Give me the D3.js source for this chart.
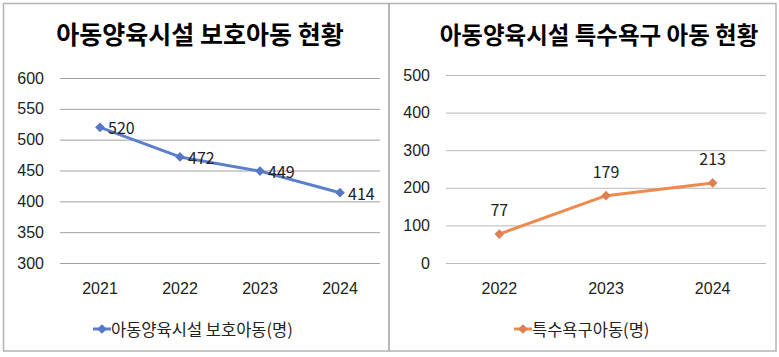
<!DOCTYPE html>
<html><head><meta charset="utf-8">
<script src="https://cdn.jsdelivr.net/npm/d3@7"></script>
<style>
body{margin:0;background:#fff;}
svg{display:block;font-family:"Noto Sans CJK KR","Noto Sans",sans-serif;}
</style></head>
<body><svg id="c" width="779" height="357"></svg>
<script>
const years1 = ["2021","2022","2023","2024"];
const values1 = [520, 472, 449, 414];
const ticks1 = [300, 350, 400, 450, 500, 550, 600];
const title1 = "아동양육시설 보호아동 현황";
const legend1 = "아동양육시설 보호아동(명)";

const years2 = ["2022","2023","2024"];
const values2 = [77, 179, 213];
const ticks2 = [0, 100, 200, 300, 400, 500];
const title2 = "아동양육시설 특수욕구 아동 현황";
const legend2 = "특수욕구아동(명)";

const svg = d3.select("#c");
svg.append("rect").attr("x",3.5).attr("y",3.5).attr("width",385.5).attr("height",347.5)
  .attr("fill","none").attr("stroke","#b4b4b4").attr("stroke-width",1.5);
svg.append("rect").attr("x",389).attr("y",3.5).attr("width",387).attr("height",347.5)
  .attr("fill","none").attr("stroke","#b4b4b4").attr("stroke-width",1.5);

function chart(o){
  const g = svg.append("g");
  const x = d3.scaleBand().domain(o.cats).range([o.x0,o.x1]);
  const y = d3.scaleLinear().domain(o.dom).range([263,o.yTop]);
  g.append("text").attr("x",o.tx).attr("y",44).attr("text-anchor","middle")
    .attr("font-size",o.tfs).attr("font-weight","bold").attr("fill","#000").text(o.title);
  const ya = d3.axisLeft(y).tickValues(o.ticks).tickSize(-(o.x1-o.x0)).tickPadding(16);
  const ag = g.append("g").attr("transform",`translate(${o.x0},0)`).call(ya);
  ag.select(".domain").remove();
  ag.selectAll(".tick line").attr("stroke",o.grid).attr("stroke-width",1);
  ag.selectAll(".tick text").attr("font-size",16).attr("fill","#222").attr("font-family","inherit");
  const xa = d3.axisBottom(x).tickSize(0).tickPadding(20);
  const xg = g.append("g").attr("transform","translate(0,263)").call(xa);
  xg.select(".domain").remove();
  xg.selectAll(".tick text").attr("font-size",16).attr("fill","#222").attr("font-family","inherit");
  const cx = d=>x(d)+x.bandwidth()/2;
  const line = d3.line().x((d,i)=>cx(o.cats[i])).y(d=>y(d));
  g.append("path").datum(o.vals).attr("d",line).attr("fill","none")
    .attr("stroke",o.color).attr("stroke-width",3).attr("stroke-linejoin","round");
  const sym = d3.symbol().type(d3.symbolDiamond2).size(60);
  g.selectAll(".m").data(o.vals).enter().append("path")
    .attr("d",sym).attr("fill",o.mcolor)
    .attr("transform",(d,i)=>`translate(${cx(o.cats[i])},${y(d)})`);
  g.selectAll(".lbl").data(o.vals).enter().append("text")
    .attr("x",(d,i)=>cx(o.cats[i])+o.lx).attr("y",d=>y(d)+o.ly)
    .attr("text-anchor",o.la).attr("dominant-baseline","central")
    .attr("font-size",16).attr("fill","#222").text(d=>d);
  g.append("line").attr("x1",o.lgx).attr("x2",o.lgx+18).attr("y1",329).attr("y2",329)
    .attr("stroke",o.color).attr("stroke-width",3);
  g.append("path").attr("d",sym).attr("fill",o.mcolor).attr("transform",`translate(${o.lgx+9},329)`);
  g.append("text").attr("x",o.lgx+18).attr("y",329).attr("dominant-baseline","central")
    .attr("font-size",16.5).attr("fill","#222").text(o.legend);
}

chart({cats:years1, vals:values1, dom:[300,600], ticks:ticks1, yTop:78, x0:60, x1:380,
  tx:200, tfs:25, title:title1, legend:legend1, color:"#5b7fcc", mcolor:"#5577c6", grid:"#a0a0a0",
  lx:8, ly:0, la:"start", lgx:93});
chart({cats:years2, vals:values2, dom:[0,500], ticks:ticks2, yTop:75, x0:446, x1:766,
  tx:599, tfs:23.5, title:title2, legend:legend2, color:"#ee8a4e", mcolor:"#dd8052", grid:"#b8b8b8",
  lx:0, ly:-25, la:"middle", lgx:514});
</script></body></html>
